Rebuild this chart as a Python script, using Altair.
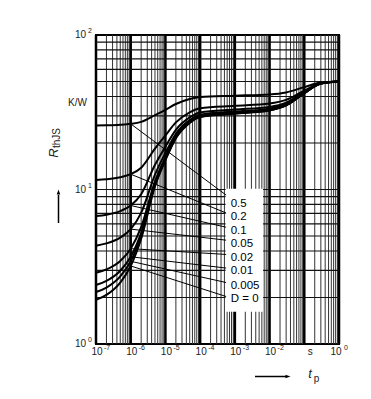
import altair as alt
import pandas as pd

# ---- data ----
t_s = [1e-7, 2e-7, 5e-7, 1e-6, 2e-6, 5e-6, 1e-5, 2e-5, 5e-5, 1e-4, 1e-3, 1e-2, 3e-2, 1e-1, 3e-1, 1.0]
d_labels = ["0.5", "0.2", "0.1", "0.05", "0.02", "0.01", "0.005", "D = 0"]
z_d05 = [25.97, 26.04, 26.25, 26.6, 27.4, 30.25, 32.75, 35.75, 38.5, 39.75, 40.5, 41.25, 42.5, 46.0, 49.25, 50.0]
z_d02 = [11.54, 11.66, 12.0, 12.56, 13.84, 18.4, 22.4, 27.2, 31.6, 33.6, 34.8, 36.0, 38.0, 43.6, 48.8, 50.0]
z_d01 = [6.74, 6.87, 7.25, 7.88, 9.32, 14.45, 18.95, 24.35, 29.3, 31.55, 32.9, 34.25, 36.5, 42.8, 48.65, 50.0]
z_d005 = [4.33, 4.48, 4.88, 5.54, 7.06, 12.48, 17.23, 22.93, 28.15, 30.53, 31.95, 33.38, 35.75, 42.4, 48.58, 50.0]
z_d002 = [2.89, 3.04, 3.45, 4.14, 5.70, 11.29, 16.19, 22.07, 27.46, 29.91, 31.38, 32.85, 35.3, 42.16, 48.53, 50.0]
z_d001 = [2.41, 2.56, 2.98, 3.67, 5.25, 10.9, 15.85, 21.79, 27.23, 29.71, 31.19, 32.68, 35.15, 42.08, 48.52, 50.0]
z_d0005 = [2.17, 2.32, 2.74, 3.43, 5.03, 10.70, 15.67, 21.64, 27.12, 29.6, 31.1, 32.59, 35.08, 42.04, 48.51, 50.0]
z_d0 = [1.93, 2.08, 2.50, 3.20, 4.80, 10.5, 15.5, 21.5, 27.0, 29.5, 31.0, 32.5, 35.0, 42.0, 48.5, 50.0]
curves = [z_d05, z_d02, z_d01, z_d005, z_d002, z_d001, z_d0005, z_d0]

# leader lines and labels
leader_t0 = 1e-6
leader_start = [26.6, 12.56, 7.88, 5.54, 4.14, 3.67, 3.43, 3.2]
leader_t1 = 5.6e-4
leader_end = [9.2, 7.05, 5.7, 4.7, 3.8, 3.1, 2.5, 2.03]
label_t = 7.6e-4
label_r = [8.1, 6.6, 5.4, 4.45, 3.6, 2.97, 2.37, 1.95]
box_t = [5.4e-4, 6.5e-3]
box_r = [1.62, 10.1]

# grid / tick values
mantissas = [2, 3, 4, 5, 6, 7, 8, 9]
x_decades = [1e-7, 1e-6, 1e-5, 1e-4, 1e-3, 1e-2, 1e-1, 1.0]
y_decades = [1.0, 10.0, 100.0]
x_tick_vals = [1e-7, 1e-6, 1e-5, 1e-4, 1e-3, 1e-2]
x_tick_exp = ["-7", "-6", "-5", "-4", "-3", "-2"]
y_tick_exp = ["0", "1", "2"]

# ---- tables ----
curve_df = pd.DataFrame(
    [{"t": t, "z": z, "d": lab} for lab, zs in zip(d_labels, curves) for t, z in zip(t_s, zs)]
)
leader_df = pd.DataFrame({
    "d": d_labels, "t0": [leader_t0] * 8, "z0": leader_start,
    "t1": [leader_t1] * 8, "z1": leader_end,
})
label_df = pd.DataFrame({"d": d_labels, "t": [label_t] * 8, "z": label_r})
box_df = pd.DataFrame({"t0": [box_t[0]], "t1": [box_t[1]], "z0": [box_r[0]], "z1": [box_r[1]]})
xminor_df = pd.DataFrame({"v": [m * d for d in x_decades[:-1] for m in mantissas]})
xmajor_df = pd.DataFrame({"v": x_decades})
yminor_df = pd.DataFrame({"v": [m * d for d in y_decades[:-1] for m in mantissas] + [10.0]})
xlab_df = pd.DataFrame({"v": x_tick_vals, "e": x_tick_exp})
ylab_df = pd.DataFrame({"v": y_decades, "e": y_tick_exp})

W, H = 243, 309
FONT = "Liberation Sans"
xs = alt.Scale(type="log", domain=[1e-7, 1.0], nice=False)
ys = alt.Scale(type="log", domain=[1.0, 100.0], nice=False)

grid_xminor = alt.Chart(xminor_df).mark_rule(color="#333", strokeWidth=1).encode(
    x=alt.X("v:Q", scale=xs, axis=None))
grid_xmajor = alt.Chart(xmajor_df).mark_rule(color="#000", strokeWidth=2.5).encode(
    x=alt.X("v:Q", scale=xs, axis=None))
grid_y = alt.Chart(yminor_df).mark_rule(color="#111", strokeWidth=1.2).encode(
    y=alt.Y("v:Q", scale=ys, axis=None))

box = alt.Chart(box_df).mark_rect(color="white").encode(
    x=alt.X("t0:Q", scale=xs, axis=None), x2="t1:Q",
    y=alt.Y("z0:Q", scale=ys, axis=None), y2="z1:Q")

lines = alt.Chart(curve_df).mark_line(color="black", strokeWidth=2, interpolate="monotone").encode(
    x=alt.X("t:Q", scale=xs, axis=None),
    y=alt.Y("z:Q", scale=ys, axis=None),
    detail="d:N")

leaders = alt.Chart(leader_df).mark_rule(color="black", strokeWidth=1).encode(
    x=alt.X("t0:Q", scale=xs, axis=None), x2="t1:Q",
    y=alt.Y("z0:Q", scale=ys, axis=None), y2="z1:Q")

labels = alt.Chart(label_df).mark_text(align="left", baseline="middle", font=FONT,
                                       fontSize=11.5, color="black").encode(
    x=alt.X("t:Q", scale=xs, axis=None), y=alt.Y("z:Q", scale=ys, axis=None), text="d:N")

# x tick labels
xl10 = alt.Chart(xlab_df).mark_text(align="center", baseline="middle", font=FONT, fontSize=10,
                                    color="#222", dx=1).encode(
    x=alt.X("v:Q", scale=xs, axis=None), y=alt.value(H + 8), text=alt.value("10"))
xlexp = alt.Chart(xlab_df).mark_text(align="left", baseline="middle", font=FONT, fontSize=7,
                                     color="#222", dx=8).encode(
    x=alt.X("v:Q", scale=xs, axis=None), y=alt.value(H + 4), text="e:N")
xl_last = alt.Chart(pd.DataFrame({"v": [1.0]})).mark_text(
    align="center", baseline="middle", font=FONT, fontSize=10, color="#222", dx=-3).encode(
    x=alt.X("v:Q", scale=xs, axis=None), y=alt.value(H + 8), text=alt.value("10"))
xl_last_e = alt.Chart(pd.DataFrame({"v": [1.0]})).mark_text(
    align="left", baseline="middle", font=FONT, fontSize=7, color="#222", dx=5).encode(
    x=alt.X("v:Q", scale=xs, axis=None), y=alt.value(H + 4), text=alt.value("0"))
xl_s = alt.Chart(pd.DataFrame({"v": [0.1]})).mark_text(
    align="center", baseline="middle", font=FONT, fontSize=10, color="#222", dx=6).encode(
    x=alt.X("v:Q", scale=xs, axis=None), y=alt.value(H + 8), text=alt.value("s"))

# y tick labels
yl10 = alt.Chart(ylab_df).mark_text(align="right", baseline="middle", font=FONT, fontSize=10,
                                    color="#222").encode(
    y=alt.Y("v:Q", scale=ys, axis=None), x=alt.value(-10), text=alt.value("10"))
ylexp = alt.Chart(ylab_df).mark_text(align="left", baseline="middle", font=FONT, fontSize=7,
                                     color="#222", dy=-4).encode(
    y=alt.Y("v:Q", scale=ys, axis=None), x=alt.value(-8), text="e:N")

kw = alt.Chart(pd.DataFrame({"a": [0]})).mark_text(
    align="right", baseline="middle", font=FONT, fontSize=10, color="#222").encode(
    x=alt.value(-9), y=alt.value(68), text=alt.value("K/W"))

r_main = alt.Chart(pd.DataFrame({"a": [0]})).mark_text(
    align="center", baseline="middle", font=FONT, fontSize=13, fontStyle="italic",
    angle=270, color="#222").encode(
    x=alt.value(-42), y=alt.value(118), text=alt.value("R"))
r_sub = alt.Chart(pd.DataFrame({"a": [0]})).mark_text(
    align="center", baseline="middle", font=FONT, fontSize=10, angle=270, color="#222").encode(
    x=alt.value(-39), y=alt.value(103), text=alt.value("thJS"))

up_shaft = alt.Chart(pd.DataFrame({"a": [0]})).mark_rule(color="black", strokeWidth=1.5).encode(
    x=alt.value(-37.5), y=alt.value(160), y2=alt.value(188))
up_head = alt.Chart(pd.DataFrame({"a": [0]})).mark_point(
    shape="M0,-0.5L0.35,0.5L-0.35,0.5Z", filled=True, color="black", size=100, opacity=1).encode(
    x=alt.value(-37.5), y=alt.value(157))

rt_shaft = alt.Chart(pd.DataFrame({"a": [0]})).mark_rule(color="black", strokeWidth=1.5).encode(
    x=alt.value(159), x2=alt.value(190), y=alt.value(341.5))
rt_head = alt.Chart(pd.DataFrame({"a": [0]})).mark_point(
    shape="M0.5,0L-0.5,0.35L-0.5,-0.35Z", filled=True, color="black", size=100, opacity=1).encode(
    x=alt.value(192), y=alt.value(341.5))

tp_t = alt.Chart(pd.DataFrame({"a": [0]})).mark_text(
    align="center", baseline="middle", font=FONT, fontSize=13, fontStyle="italic", color="#222").encode(
    x=alt.value(214), y=alt.value(339), text=alt.value("t"))
tp_p = alt.Chart(pd.DataFrame({"a": [0]})).mark_text(
    align="center", baseline="middle", font=FONT, fontSize=10, color="#222").encode(
    x=alt.value(220.5), y=alt.value(344), text=alt.value("p"))

chart = alt.layer(
    grid_xminor, grid_xmajor, grid_y, box, lines, leaders, labels,
    xl10, xlexp, xl_last, xl_last_e, xl_s, yl10, ylexp, kw, r_main, r_sub,
    up_shaft, up_head, rt_shaft, rt_head, tp_t, tp_p,
).properties(
    width=W, height=H,
    autosize=alt.AutoSizeParams(type="none"),
    padding={"left": 88, "top": 27, "right": 20, "bottom": 40},
    background="white",
).configure_view(stroke="black", strokeWidth=2)

chart.save("out.html", embed_options={"renderer": "svg", "actions": False})
